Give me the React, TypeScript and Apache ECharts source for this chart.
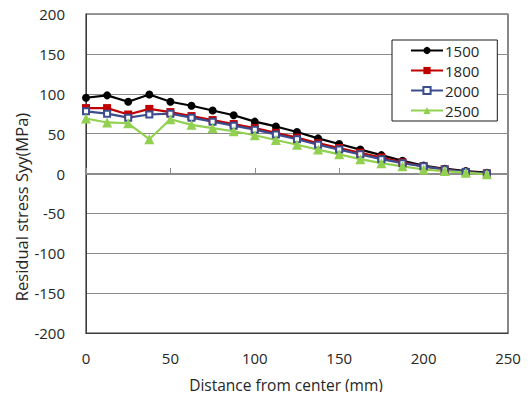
import React, { useEffect, useRef } from "react";
import * as echarts from "echarts";

// Distance from the centre (mm)
const distances = [
  0, 12.5, 25, 37.5, 50, 62.5, 75, 87.5, 100, 112.5, 125, 137.5, 150, 162.5,
  175, 187.5, 200, 212.5, 225, 237.5,
];

// Residual stress Syy (MPa) for each case
const s1500 = [95, 98, 90, 99, 90, 85, 79, 73, 65, 59, 52, 44, 37, 30, 23, 16, 10, 6, 3, 1];
const s1800 = [82, 82, 74, 81, 77, 72, 67, 62, 57, 51, 45, 38, 32, 26, 20, 14, 9, 5, 2, 0];
const s2000 = [78, 75, 70, 74, 75, 70, 65, 60, 55, 49, 43, 36, 30, 24, 18, 13, 9, 5, 2, 0];
const s2500 = [69, 64, 63, 43, 68, 61, 57, 53, 48, 42, 36, 30, 24, 18, 13, 9, 5, 3, 1, -1];

const seriesNames = ["1500", "1800", "2000", "2500"];

const FONT = "'Open Sans', sans-serif";
const TEXT = "#262626";

const pairs = (ys: number[]) => distances.map((x, i) => [x, ys[i]]);

export default function App() {
  const ref = useRef<HTMLDivElement>(null);

  useEffect(() => {
    if (!ref.current) return;
    const chart = echarts.init(ref.current, undefined, { renderer: "svg" });
    chart.setOption({
      animation: false,
      backgroundColor: "#ffffff",
      grid: {
        left: 86,
        top: 14,
        right: 22,
        bottom: 67,
        show: true,
        borderColor: "#3a3a3a",
        borderWidth: 1.2,
      },
      legend: {
        orient: "vertical",
        left: 392,
        top: 40,
        data: seriesNames,
        backgroundColor: "#ffffff",
        borderColor: "#1a1a1a",
        borderWidth: 1,
        padding: [2, 18, 2, 18],
        itemWidth: 32,
        itemHeight: 9,
        itemGap: 3,
        textStyle: { fontFamily: FONT, fontSize: 15, color: TEXT, padding: [0, 0, 0, -3], lineHeight: 17 },
      },
      xAxis: [
        {
          type: "value",
          min: 0,
          max: 250,
          interval: 50,
          axisLine: { onZero: false, lineStyle: { color: "#3a3a3a" } },
          axisTick: { show: false },
          splitLine: { show: false },
          axisLabel: { fontFamily: FONT, fontSize: 15, color: TEXT, margin: 17 },
        },
        {
          // tick marks sitting on the zero line, pointing upwards
          type: "value",
          min: 0,
          max: 250,
          interval: 50,
          position: "top",
          offset: -160,
          axisLine: { show: true, onZero: false, lineStyle: { color: "#8c8c8c" } },
          axisTick: { show: true, inside: false, length: 6, lineStyle: { color: "#8c8c8c" } },
          axisLabel: { show: false },
          splitLine: { show: false },
        },
      ],
      yAxis: {
        type: "value",
        min: -200,
        max: 200,
        interval: 50,
        axisLine: { show: true, lineStyle: { color: "#3a3a3a" } },
        axisTick: { show: false },
        splitLine: { show: true, lineStyle: { color: "#8c8c8c", width: 1 } },
        axisLabel: { fontFamily: FONT, fontSize: 15, color: TEXT, margin: 21 },
      },
      graphic: [
        {
          type: "text",
          x: 21,
          y: 207,
          rotation: Math.PI / 2,
          style: {
            text: "Residual stress Syy(MPa)",
            fontFamily: FONT,
            fontSize: 16.5,
            fill: TEXT,
            align: "center",
            verticalAlign: "middle",
          },
        },
        {
          type: "text",
          x: 286,
          y: 385,
          style: {
            text: "Distance from center (mm)",
            fontFamily: FONT,
            fontSize: 15.5,
            fill: TEXT,
            align: "center",
            verticalAlign: "middle",
          },
        },
      ],
      series: [
        {
          name: "1500",
          type: "line",
          data: pairs(s1500),
          symbol: "circle",
          symbolSize: 8,
          color: "#000000",
          lineStyle: { width: 2.2, color: "#000000" },
        },
        {
          name: "1800",
          type: "line",
          data: pairs(s1800),
          symbol: "rect",
          symbolSize: 8,
          color: "#c00000",
          lineStyle: { width: 2.2, color: "#c00000" },
        },
        {
          name: "2000",
          type: "line",
          data: pairs(s2000),
          symbol: "emptyRect",
          symbolSize: 6,
          color: "#3b4d8c",
          itemStyle: { color: "#3b4d8c", borderWidth: 1.1 },
          lineStyle: { width: 2.2, color: "#3b4d8c" },
        },
        {
          name: "2500",
          type: "line",
          data: pairs(s2500),
          symbol: "triangle",
          symbolSize: 10,
          color: "#92d050",
          lineStyle: { width: 2.2, color: "#92d050" },
        },
      ],
    });
    return () => chart.dispose();
  }, []);

  return <div ref={ref} style={{ width: 530, height: 400, margin: -8 }} />;
}
